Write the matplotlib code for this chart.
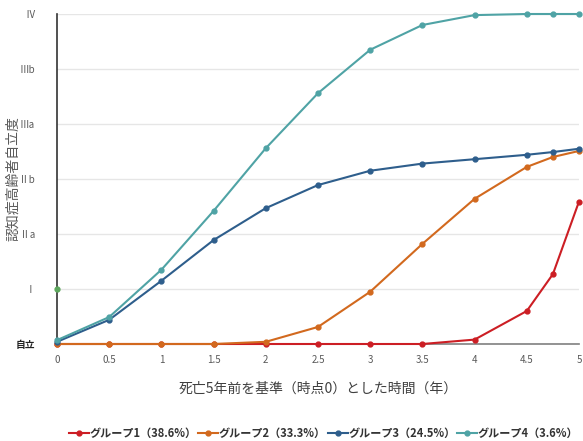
import matplotlib
matplotlib.use("Agg")
import matplotlib.pyplot as plt
from matplotlib.lines import Line2D

plt.rcParams['font.family'] = ['Noto Sans CJK JP', 'DejaVu Sans']

x = [0, 0.5, 1, 1.5, 2, 2.5, 3, 3.5, 4, 4.5, 4.75, 5]
group1 = [0, 0, 0, 0, 0, 0, 0, 0, 0.08, 0.6, 1.27, 2.59]
group2 = [0, 0, 0, 0, 0.04, 0.31, 0.95, 1.82, 2.64, 3.22, 3.4, 3.51]
group3 = [0.04, 0.44, 1.15, 1.89, 2.47, 2.89, 3.15, 3.28, 3.36, 3.44, 3.49, 3.55]
group4 = [0.07, 0.49, 1.35, 2.42, 3.56, 4.56, 5.35, 5.8, 5.98, 6.0, 6.0, 6.0]
extra_x = [0]
extra_y = [1]

labels = ["グループ1（38.6%）", "グループ2（33.3%）", "グループ3（24.5%）", "グループ4（3.6%）"]
colors = ["#CC1E24", "#D2691E", "#2E5E8C", "#4FA3A5"]
ytick_labels = ["自立", "Ⅰ", "Ⅱa", "Ⅱb", "Ⅲa", "Ⅲb", "Ⅳ"]
xtick_labels = ["0", "0.5", "1", "1.5", "2", "2.5", "3", "3.5", "4", "4.5", "5"]

fig = plt.figure(figsize=(5.83, 4.41), dpi=100)
ax = fig.add_axes([57/583, 97/441, 522/583, 330/441])

for y, c, lab in zip([group1, group2, group3, group4], colors, labels):
    ax.plot(x, y, color=c, lw=1.5, marker='o', ms=3.5, label=lab, clip_on=False, zorder=3)
ax.plot(extra_x, extra_y, 'o', color="#5DA85D", ms=3.5, clip_on=False, zorder=3)

ax.set_xlim(0, 5)
ax.set_ylim(0, 6)
ax.set_yticks(range(7))
ax.set_yticklabels(ytick_labels)
ax.set_xticks([float(t) for t in xtick_labels])
ax.set_xticklabels(xtick_labels)
ax.tick_params(axis='both', length=0, labelsize=7, colors="#595959", pad=8)
ax.tick_params(axis='y', pad=16)
for t in ax.get_yticklabels():
    if t.get_text() == "自立":
        t.set_color("#222222")
        t.set_fontweight('bold')
ax.grid(axis='y', color="#E6E6E6", lw=1)
ax.set_axisbelow(True)
for s in ['top', 'right']:
    ax.spines[s].set_visible(False)
ax.spines['left'].set_color("#333333")
ax.spines['left'].set_linewidth(1.2)
ax.spines['bottom'].set_color("#808080")
ax.spines['bottom'].set_linewidth(1.2)

ax.set_xlabel("死亡5年前を基準（時点0）とした時間（年）", fontsize=10, color="#404040", labelpad=12)
ax.set_ylabel("認知症高齢者自立度", fontsize=10, color="#595959")
ax.yaxis.set_label_coords(-0.07, 0.5)

handles = [Line2D([0], [0], color=c, lw=1.5, marker='o', ms=3.5) for c in colors]
fig.legend(handles, labels, loc='lower center', bbox_to_anchor=(0.555, -0.02), ncol=4, frameon=False,
           fontsize=8, handlelength=1.8, handletextpad=0.05, columnspacing=0.15,
           labelcolor="#333333", prop={'weight': 'bold', 'size': 8})

fig.savefig("out.png", dpi=100)
